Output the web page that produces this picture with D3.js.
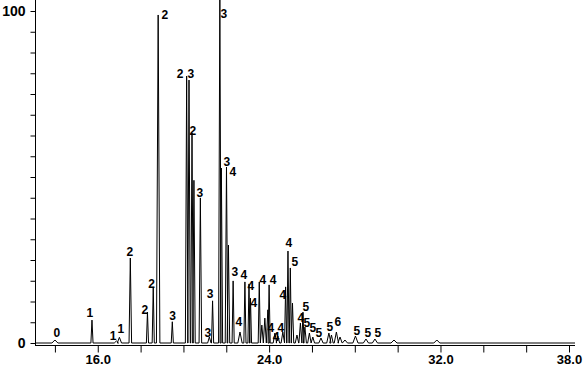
<!DOCTYPE html>
<html>
<head>
<meta charset="utf-8">
<script src="https://cdn.jsdelivr.net/npm/d3@7"></script>
<style>
  body { margin: 0; background: #fff; }
  svg { display: block; }
  text { font-family: "Liberation Sans", Arial, sans-serif; }
</style>
</head>
<body>
<div id="chart"></div>
<script>
// peaks: retention time (min), relative abundance (%), half width (min)
var peakRt = [14.00, 15.73, 16.87, 17.01, 17.52, 18.32, 18.59, 18.82, 19.48, 20.15,
              20.26, 20.40, 20.49, 20.79, 21.21, 21.36, 21.70, 21.77, 22.01, 22.10,
              22.32, 22.64, 22.87, 23.06, 23.13, 23.54, 23.66, 23.80, 23.94, 24.00,
              24.27, 24.41, 24.64, 24.77, 24.88, 24.99, 25.09, 25.30, 25.46, 25.58,
              25.67, 25.88, 26.04, 26.42, 26.79, 26.91, 27.14, 27.31, 27.54, 28.03,
              28.52, 28.94, 29.83, 31.83];
var peakVal = [0.9, 6.9, 0.6, 1.7, 25.6, 9.3, 16.9, 98.8, 6.4, 80.4,
               79.2, 63.3, 49.0, 43.7, 1.8, 12.7, 106, 52.7, 53.0, 29.5,
               18.7, 3.3, 18.4, 17.8, 13.5, 18.4, 5.4, 7.5, 10.0, 17.5,
               3.0, 2.1, 3.3, 16.9, 27.7, 22.6, 12.0, 2.4, 6.0, 9.3,
               4.8, 3.0, 1.8, 1.5, 3.0, 2.4, 3.3, 1.8, 0.9, 2.1,
               1.2, 1.2, 0.9, 0.9];
var peakHw = [0.14, 0.05, 0.10, 0.10, 0.06, 0.05, 0.05, 0.08, 0.05, 0.06,
              0.06, 0.06, 0.06, 0.06, 0.08, 0.05, 0.06, 0.06, 0.06, 0.06,
              0.05, 0.10, 0.05, 0.05, 0.05, 0.05, 0.07, 0.07, 0.07, 0.05,
              0.08, 0.08, 0.08, 0.05, 0.05, 0.05, 0.06, 0.08, 0.07, 0.05,
              0.07, 0.08, 0.08, 0.10, 0.10, 0.08, 0.10, 0.10, 0.12, 0.12,
              0.12, 0.12, 0.14, 0.14];

// peak annotations (group number) and where they sit
var labelText = ["0","1","1","1","2","2","2","2","3","2","3","2","3","3","3","3","3","4",
                 "3","4","4","4","4","4","4","4","4","4","4","4","5","5","4","5","5","5",
                 "5","6","5","5","5"];
var labelRt = [14.09, 15.63, 16.71, 17.08, 17.50, 18.20, 18.51, 19.13, 19.49, 19.84, 20.35, 20.44,
               20.77, 21.14, 21.24, 21.89, 22.03, 22.31, 22.40, 22.82, 23.15, 23.29, 22.59, 23.71,
               24.18, 24.08, 24.55, 24.32, 24.64, 24.92, 25.20, 25.72, 25.48, 25.76, 26.04, 26.32,
               26.84, 27.21, 28.10, 28.61, 29.08];
var labelVal = [3.0, 9.0, 2.1, 4.2, 27.4, 9.9, 17.8, 98.8, 8.1, 81.0, 81.0, 63.9,
                45.2, 3.0, 14.8, 99.1, 54.5, 51.5, 21.4, 20.5, 17.2, 12.0, 6.3, 19.0,
                19.0, 4.5, 4.5, 1.8, 14.5, 30.1, 24.4, 10.8, 7.5, 6.0, 4.5, 3.0,
                4.8, 6.3, 3.6, 3.0, 3.0];

var xTicks = d3.range(14, 38.1, 2);
var xTickLabels = [16, 24, 32, 38];
var yTicks = d3.range(0, 100.1, 6.25);
var yTickLabels = [0, 100];

var width = 584, height = 366;

var svg = d3.select("#chart").append("svg")
  .attr("width", width)
  .attr("height", height);

var x = d3.scaleLinear().domain([13.07, 38.28]).range([35, 575]);
var y = d3.scaleLinear().domain([0, 100]).range([343, 11]);

// build trace as a run of spikes
var pts = [[13.07, 0]];
var order = d3.range(peakRt.length).sort(function(a, b) { return peakRt[a] - peakRt[b]; });
order.forEach(function(i) {
  pts.push([peakRt[i] - peakHw[i], 0]);
  pts.push([peakRt[i], peakVal[i]]);
  pts.push([peakRt[i] + peakHw[i], 0]);
});
pts.push([38.28, 0]);

var line = d3.line()
  .x(function(d) { return x(d[0]); })
  .y(function(d) { return y(d[1]); });

svg.append("path")
  .datum(pts)
  .attr("d", line)
  .attr("fill", "none")
  .attr("stroke", "#000")
  .attr("stroke-width", 1);

// x axis
var xAxis = svg.append("g")
  .attr("transform", "translate(0,345.5)")
  .call(d3.axisBottom(x)
    .tickValues(xTicks)
    .tickSize(7)
    .tickSizeOuter(0)
    .tickPadding(2)
    .tickFormat(function(d) { return xTickLabels.indexOf(d) >= 0 ? d.toFixed(1) : ""; }));
xAxis.select(".domain").remove();
xAxis.append("line")
  .attr("x1", 35).attr("x2", 575)
  .attr("stroke", "#000");
xAxis.selectAll("text")
  .attr("font-size", 13).attr("font-weight", "bold").attr("fill", "#000")
  .style("font-family", "'Liberation Sans', Arial, sans-serif");

// y axis
var yAxis = svg.append("g")
  .attr("transform", "translate(35.5,0)")
  .call(d3.axisLeft(y)
    .tickValues(yTicks)
    .tickSize(5)
    .tickSizeOuter(0)
    .tickPadding(5)
    .tickFormat(function(d) { return yTickLabels.indexOf(d) >= 0 ? d3.format("d")(d) : ""; }));
yAxis.select(".domain").remove();
yAxis.append("line")
  .attr("y1", 0).attr("y2", 346)
  .attr("stroke", "#000");
yAxis.selectAll("text")
  .attr("font-size", 14).attr("font-weight", "bold").attr("fill", "#000")
  .style("font-family", "'Liberation Sans', Arial, sans-serif");

// peak labels
svg.append("g").selectAll("text")
  .data(labelText)
  .enter()
  .append("text")
  .attr("x", function(d, i) { return x(labelRt[i]); })
  .attr("y", function(d, i) { return y(labelVal[i]); })
  .attr("dy", "0.36em")
  .attr("text-anchor", "middle")
  .attr("font-size", 12)
  .attr("font-weight", "bold")
  .attr("fill", "#000")
  .text(function(d) { return d; });
</script>
</body>
</html>
